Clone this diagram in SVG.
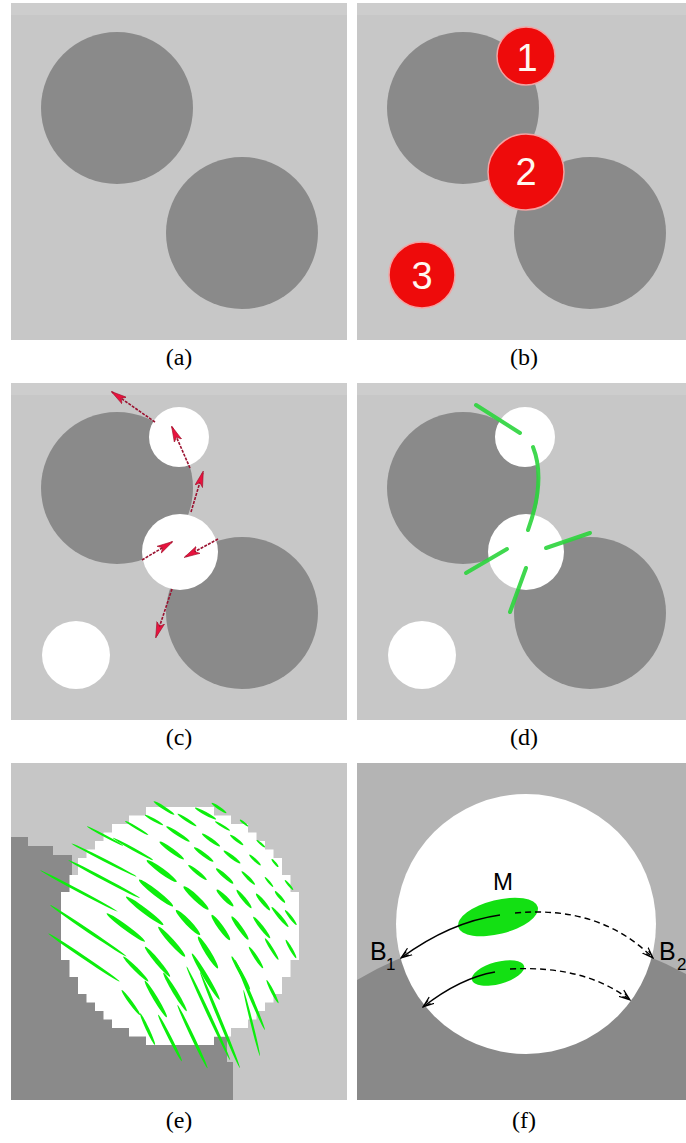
<svg xmlns="http://www.w3.org/2000/svg" width="686" height="1143" viewBox="0 0 686 1143">
<style>
.bg{fill:#c7c7c7}
.strip{fill:#cdcdcd}
.dk{fill:#8a8a8a}
.wh{fill:#ffffff}
.red{fill:#ee0b0b;stroke:#f3a2a2;stroke-width:1.5}
.num{font-family:"Liberation Sans",Arial,sans-serif;font-size:38px;fill:#fff8f0;text-anchor:middle}
.lab{font-family:"Liberation Serif","Times New Roman",serif;font-size:24px;fill:#000;text-anchor:middle}
.ra{fill:none;stroke:#9a1230;stroke-width:1.6;stroke-dasharray:3 1.2;marker-end:url(#rh)}
.gs{fill:none;stroke:#2bd43c;stroke-width:4;stroke-linecap:round;opacity:0.9}
.ge ellipse{fill:#0cee0c}
.fa{fill:none;stroke:#000;stroke-width:1.4;marker-end:url(#bh)}
.fd{stroke-dasharray:6 4}
.ft{font-family:"Liberation Sans",Arial,sans-serif;fill:#000}
</style>
<defs>
<marker id="rh" viewBox="0 0 16 9" refX="15" refY="4.5" markerWidth="16" markerHeight="9" markerUnits="userSpaceOnUse" orient="auto">
<path d="M0,0.5 L16,4.5 L0,8.5 L4,4.5 Z" fill="#e8123e" stroke="#a0102a" stroke-width="0.6"/>
</marker>
<marker id="bh" viewBox="0 0 12 10" refX="11" refY="5" markerWidth="12" markerHeight="10" markerUnits="userSpaceOnUse" orient="auto">
<path d="M0,1 L11,5 L0,9 M3,3 L11,5 L3,7" fill="none" stroke="#000" stroke-width="1.2"/>
</marker>
<clipPath id="cf"><rect x="357" y="763" width="329" height="337"/></clipPath>
</defs>
<rect width="686" height="1143" fill="#ffffff"/>

<g id="panel-a">
<rect class="bg" x="11" y="3" width="336" height="337"/>
<rect class="strip" x="11" y="3" width="336" height="12"/>
<circle class="dk" cx="117" cy="108" r="76"/>
<circle class="dk" cx="242" cy="233" r="76"/>
<text class="lab" x="179" y="365">(a)</text>
</g>

<g id="panel-b">
<rect class="bg" x="357" y="3" width="329" height="337"/>
<rect class="strip" x="357" y="3" width="329" height="12"/>
<circle class="dk" cx="463" cy="108" r="76"/>
<circle class="dk" cx="590" cy="233" r="76"/>
<g id="region-1"><circle class="red" cx="526" cy="56" r="29"/><text class="num" x="527" y="71">1</text></g>
<g id="region-2"><circle class="red" cx="526" cy="172" r="38"/><text class="num" x="526" y="185">2</text></g>
<g id="region-3"><circle class="red" cx="422" cy="275" r="33"/><text class="num" x="422" y="289">3</text></g>
<text class="lab" x="524" y="365">(b)</text>
</g>

<g id="panel-c">
<rect class="bg" x="11" y="383" width="336" height="337"/>
<rect class="strip" x="11" y="383" width="336" height="12"/>
<circle class="dk" cx="117" cy="488" r="76"/>
<circle class="dk" cx="242" cy="613" r="76"/>
<circle class="wh" cx="179" cy="437" r="30"/>
<circle class="wh" cx="180" cy="552" r="38"/>
<circle class="wh" cx="76" cy="655" r="34"/>
<text class="lab" x="179" y="745">(c)</text>
</g>

<g id="panel-d">
<rect class="bg" x="357" y="383" width="329" height="337"/>
<rect class="strip" x="357" y="383" width="329" height="12"/>
<circle class="dk" cx="463" cy="488" r="76"/>
<circle class="dk" cx="590" cy="613" r="76"/>
<circle class="wh" cx="525" cy="437" r="30"/>
<circle class="wh" cx="526" cy="552" r="38"/>
<circle class="wh" cx="422" cy="655" r="34"/>
<text class="lab" x="524" y="745">(d)</text>
</g>

<g id="panel-e">
<rect x="11" y="763" width="336" height="337" fill="#c6c6c6"/>
<path class="dk" d="M11,837 H28 V846 H53 V855 H72 V890 L205,1037 H227 V1062 H233 V1100 H11 Z"/>
<path class="wh" d="M146,807 H214 V815.5 H231 V824 H248 V832.5 H256.5 V841 H265 V849.5 H273.5 V858 H282 V875 H290.5 V892 H299 V960 H290.5 V977 H282 V994 H273.5 V1002.5 H265 V1011 H256.5 V1019.5 H248 V1028 H231 V1036.5 H214 V1045 H146 V1036.5 H129 V1028 H112 V1019.5 H103.5 V1011 H95 V1002.5 H86.5 V994 H78 V977 H69.5 V960 H61 V892 H69.5 V875 H78 V858 H86.5 V849.5 H95 V841 H103.5 V832.5 H112 V824 H129 V815.5 H146 Z"/>
<g class="ge">
<ellipse cx="164" cy="808" rx="12.3" ry="1.6" transform="rotate(33 164 808)"/>
<ellipse cx="205.5" cy="813.5" rx="12" ry="1.6" transform="rotate(29 205.5 813.5)"/>
<ellipse cx="219" cy="808" rx="9" ry="1.4" transform="rotate(34 219 808)"/>
<ellipse cx="154" cy="820" rx="10.5" ry="1.4" transform="rotate(29 154 820)"/>
<ellipse cx="187" cy="820" rx="11.3" ry="1.6" transform="rotate(33 187 820)"/>
<ellipse cx="244" cy="823" rx="5.3" ry="1.1" transform="rotate(39 244 823)"/>
<ellipse cx="136.7" cy="828" rx="13.6" ry="1.3" transform="rotate(31 136.7 828)"/>
<ellipse cx="178" cy="834" rx="13.9" ry="1.8" transform="rotate(33 178 834)"/>
<ellipse cx="222.5" cy="826" rx="8.7" ry="1.3" transform="rotate(31 222.5 826)"/>
<ellipse cx="211" cy="840" rx="11" ry="1.8" transform="rotate(35 211 840)"/>
<ellipse cx="236.7" cy="840" rx="8.3" ry="1.5" transform="rotate(37 236.7 840)"/>
<ellipse cx="260.8" cy="843.7" rx="5.5" ry="1.1" transform="rotate(41 260.8 843.7)"/>
<ellipse cx="105" cy="836" rx="20.4" ry="1.1" transform="rotate(28 105 836)"/>
<ellipse cx="133" cy="849" rx="23" ry="1.3" transform="rotate(29 133 849)"/>
<ellipse cx="104" cy="860" rx="36.5" ry="1.3" transform="rotate(27 104 860)"/>
<ellipse cx="171.7" cy="850.5" rx="15" ry="2.3" transform="rotate(36 171.7 850.5)"/>
<ellipse cx="203.7" cy="854.5" rx="12" ry="2" transform="rotate(36.5 203.7 854.5)"/>
<ellipse cx="232" cy="857" rx="10.5" ry="1.8" transform="rotate(37 232 857)"/>
<ellipse cx="255" cy="860" rx="7.8" ry="1.5" transform="rotate(43 255 860)"/>
<ellipse cx="275" cy="863" rx="5.2" ry="1.2" transform="rotate(50 275 863)"/>
<ellipse cx="104" cy="879" rx="40.6" ry="1.5" transform="rotate(28 104 879)"/>
<ellipse cx="79" cy="891" rx="44" ry="1.3" transform="rotate(28 79 891)"/>
<ellipse cx="161.7" cy="871" rx="18.5" ry="2.7" transform="rotate(36 161.7 871)"/>
<ellipse cx="197.5" cy="872.5" rx="11.8" ry="2" transform="rotate(39 197.5 872.5)"/>
<ellipse cx="224.7" cy="876" rx="11.5" ry="2" transform="rotate(41 224.7 876)"/>
<ellipse cx="248.3" cy="878" rx="9.4" ry="1.6" transform="rotate(45 248.3 878)"/>
<ellipse cx="269" cy="882" rx="6.5" ry="1.2" transform="rotate(50 269 882)"/>
<ellipse cx="289" cy="885" rx="6.5" ry="1.2" transform="rotate(50 289 885)"/>
<ellipse cx="156" cy="893" rx="21.6" ry="2.9" transform="rotate(38 156 893)"/>
<ellipse cx="196" cy="898" rx="17" ry="2.9" transform="rotate(43 196 898)"/>
<ellipse cx="225" cy="898" rx="11.8" ry="2.3" transform="rotate(45 225 898)"/>
<ellipse cx="244" cy="899" rx="11.8" ry="2" transform="rotate(51 244 899)"/>
<ellipse cx="263" cy="902" rx="10.9" ry="2" transform="rotate(50 263 902)"/>
<ellipse cx="280" cy="897" rx="7.7" ry="1.6" transform="rotate(49 280 897)"/>
<ellipse cx="144.7" cy="910.8" rx="23.4" ry="2.7" transform="rotate(37 144.7 910.8)"/>
<ellipse cx="188" cy="922.5" rx="17.3" ry="2.9" transform="rotate(46 188 922.5)"/>
<ellipse cx="220.8" cy="927.5" rx="15.5" ry="2.7" transform="rotate(54 220.8 927.5)"/>
<ellipse cx="240" cy="928" rx="14.3" ry="2.3" transform="rotate(54 240 928)"/>
<ellipse cx="261.7" cy="927.5" rx="13.7" ry="2" transform="rotate(52 261.7 927.5)"/>
<ellipse cx="280" cy="917" rx="13" ry="1.8" transform="rotate(50 280 917)"/>
<ellipse cx="290.8" cy="917.5" rx="9.5" ry="1.5" transform="rotate(52 290.8 917.5)"/>
<ellipse cx="88.3" cy="930.8" rx="46" ry="1.6" transform="rotate(34 88.3 930.8)"/>
<ellipse cx="125.8" cy="927.5" rx="23.8" ry="2.5" transform="rotate(36.5 125.8 927.5)"/>
<ellipse cx="171.7" cy="941.7" rx="20" ry="2.7" transform="rotate(48 171.7 941.7)"/>
<ellipse cx="208" cy="952.5" rx="18.7" ry="2.7" transform="rotate(58 208 952.5)"/>
<ellipse cx="256" cy="957.5" rx="12.9" ry="1.8" transform="rotate(57 256 957.5)"/>
<ellipse cx="271.7" cy="949" rx="12.7" ry="1.6" transform="rotate(58 271.7 949)"/>
<ellipse cx="291" cy="949" rx="10.6" ry="1.5" transform="rotate(60 291 949)"/>
<ellipse cx="84" cy="957.5" rx="43" ry="1.6" transform="rotate(34 84 957.5)"/>
<ellipse cx="135.8" cy="969" rx="17.7" ry="2" transform="rotate(45 135.8 969)"/>
<ellipse cx="157.5" cy="961.7" rx="19.5" ry="2.3" transform="rotate(50 157.5 961.7)"/>
<ellipse cx="205.8" cy="976.7" rx="27" ry="2.3" transform="rotate(59 205.8 976.7)"/>
<ellipse cx="240.8" cy="973" rx="19" ry="1.8" transform="rotate(61 240.8 973)"/>
<ellipse cx="272.5" cy="991.7" rx="13" ry="1.5" transform="rotate(63 272.5 991.7)"/>
<ellipse cx="130.8" cy="1002.5" rx="15.5" ry="1.8" transform="rotate(54 130.8 1002.5)"/>
<ellipse cx="155.8" cy="999" rx="21.3" ry="2.2" transform="rotate(59 155.8 999)"/>
<ellipse cx="175" cy="992" rx="22.4" ry="2.2" transform="rotate(58.7 175 992)"/>
<ellipse cx="220" cy="1020" rx="52" ry="1.6" transform="rotate(67.5 220 1020)"/>
<ellipse cx="208.3" cy="1013.3" rx="51.5" ry="1.6" transform="rotate(65 208.3 1013.3)"/>
<ellipse cx="250" cy="995" rx="38" ry="1.6" transform="rotate(67 250 995)"/>
<ellipse cx="251.7" cy="1023" rx="34" ry="1.2" transform="rotate(76 251.7 1023)"/>
<ellipse cx="147.5" cy="1029" rx="17.5" ry="1.6" transform="rotate(64.7 147.5 1029)"/>
<ellipse cx="170" cy="1038" rx="26" ry="1.6" transform="rotate(63 170 1038)"/>
<ellipse cx="192.5" cy="1036.7" rx="35" ry="1.6" transform="rotate(64.6 192.5 1036.7)"/>
</g>
<text class="lab" x="179" y="1128">(e)</text>
</g>

<g id="panel-f">
<g clip-path="url(#cf)">
<rect x="357" y="763" width="329" height="337" fill="#b4b4b4"/>
<path d="M357,980 A330,330 0 0 1 686,974 L686,1100 L357,1100 Z" fill="#898989"/>
<circle class="wh" cx="526" cy="924" r="130"/>
<ellipse cx="498" cy="917" rx="41" ry="17" fill="#13e013" transform="rotate(-14 498 917)"/>
<ellipse cx="498" cy="973" rx="27" ry="11" fill="#13e013" transform="rotate(-15 498 973)"/>
<text class="ft" x="503" y="890" font-size="24" text-anchor="middle">M</text>
<text class="ft" x="370" y="960" font-size="25">B</text>
<text class="ft" x="386" y="970" font-size="17">1</text>
<text class="ft" x="659" y="960" font-size="25">B</text>
<text class="ft" x="677" y="970" font-size="17">2</text>
</g>
<text class="lab" x="524" y="1128">(f)</text>
</g>

<g id="connectors">
<path class="ra" d="M155,422 L112,392"/>
<path class="ra" d="M190,468 L172,427"/>
<path class="ra" d="M191,512 L203,472"/>
<path class="ra" d="M142,560 L172,542"/>
<path class="ra" d="M218,539 L185,557"/>
<path class="ra" d="M172,589 L156,637"/>
<path class="gs" d="M476,405 L520,433"/>
<path class="gs" d="M533,447 Q546,480 528,530"/>
<path class="gs" d="M466,573 L507,549"/>
<path class="gs" d="M546,548 L590,533"/>
<path class="gs" d="M526,568 L510,612"/>
<path class="fa" d="M500,915 Q450,922 401,958"/>
<path class="fa fd" d="M515,913 Q600,905 653,958"/>
<path class="fa" d="M495,972 Q460,978 423,1007"/>
<path class="fa fd" d="M510,969 Q585,965 630,1000"/>
</g>
</svg>
